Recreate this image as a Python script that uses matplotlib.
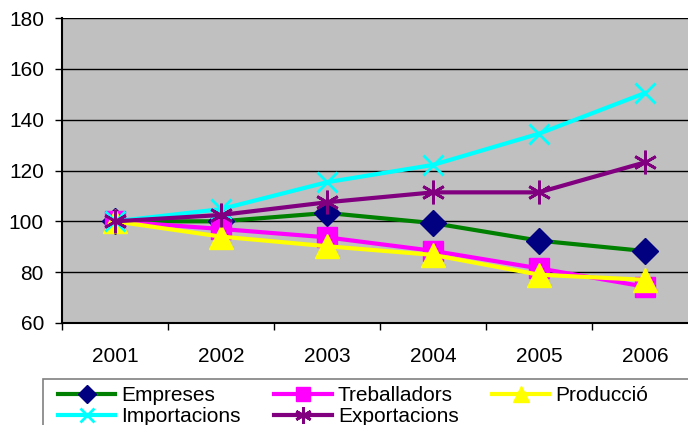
import matplotlib
matplotlib.use('Agg')
import matplotlib.pyplot as plt
from matplotlib.patches import Rectangle

plt.rcParams['font.family'] = ['Liberation Sans', 'DejaVu Sans']

years = ['2001', '2002', '2003', '2004', '2005', '2006']
empreses = [100, 100, 103.3, 99.3, 92.4, 88.3]
treballadors = [100, 97, 93.7, 88.4, 81.5, 74.3]
produccio = [100, 94, 90.2, 86.8, 79, 77]
importacions = [100, 104.8, 115.4, 122.2, 134.5, 150.5]
exportacions = [100, 102.5, 107.5, 111.4, 111.4, 123.2]

# name, values, line colour, marker, marker colour, marker size
series = [
    ('Empreses', empreses, '#008000', 'D', '#000080', 13),
    ('Treballadors', treballadors, '#FF00FF', 's', '#FF00FF', 14),
    ('Producció', produccio, '#FFFF00', '^', '#FFFF00', 17),
    ('Importacions', importacions, '#00FFFF', 'x', '#00FFFF', 15),
    ('Exportacions', exportacions, '#800080', (6, 2, 0), '#800080', 17),
]

W, H = 688, 425
fig = plt.figure(figsize=(W / 100, H / 100), dpi=100)
left, right, top, bottom = 62, 698, 18, 323
ax = fig.add_axes([left / W, 1 - bottom / H, (right - left) / W, (bottom - top) / H])
ax.set_facecolor('#C0C0C0')

x = list(range(len(years)))
handles = {}
for name, vals, lc, mk, mc, ms in series:
    mew = 2 if mk in ('x', (6, 2, 0)) else 1
    h, = ax.plot(x, vals, color=lc, linewidth=3, marker=mk, markersize=ms,
                 markerfacecolor=mc, markeredgecolor=mc, markeredgewidth=mew, label=name)
    handles[name] = h

ax.set_xlim(-0.5, len(years) - 0.5)
ax.set_ylim(60, 180)
ax.set_yticks(range(60, 181, 20))
ax.set_xticks(x)
ax.set_xticklabels(years)
ax.set_xticks([i - 0.5 for i in range(len(years) + 1)], minor=True)
ax.tick_params(axis='x', which='major', length=0, pad=17, labelsize=15)
ax.tick_params(axis='x', which='minor', length=5, width=1, direction='out')
ax.tick_params(axis='y', length=5, width=1, labelsize=15, pad=8)
ax.yaxis.grid(True, color='black', linewidth=1)
ax.set_axisbelow(True)
for s in ['top', 'right']:
    ax.spines[s].set_visible(False)
ax.spines['left'].set_linewidth(1.5)
ax.spines['bottom'].set_linewidth(1.5)

# legend filled row by row: Empreses, Treballadors, Producció / Importacions, Exportacions
order = ['Empreses', 'Importacions', 'Treballadors', 'Exportacions', 'Producció']
leg = fig.legend([handles[n] for n in order], order, loc='upper left',
                 bbox_to_anchor=(58 / W, 1 - 386 / H), ncol=3,
                 fontsize=15, frameon=False, markerscale=0.7,
                 handlelength=2.75, handletextpad=0.3, columnspacing=1.6,
                 labelspacing=0.1, borderpad=0, borderaxespad=0)
fig.patches.append(Rectangle((43 / W, -0.1), 1.0, 1 - 379 / H + 0.1,
                             transform=fig.transFigure, fill=False,
                             edgecolor='#808080', linewidth=1.2))

fig.savefig('out.png', dpi=100)
